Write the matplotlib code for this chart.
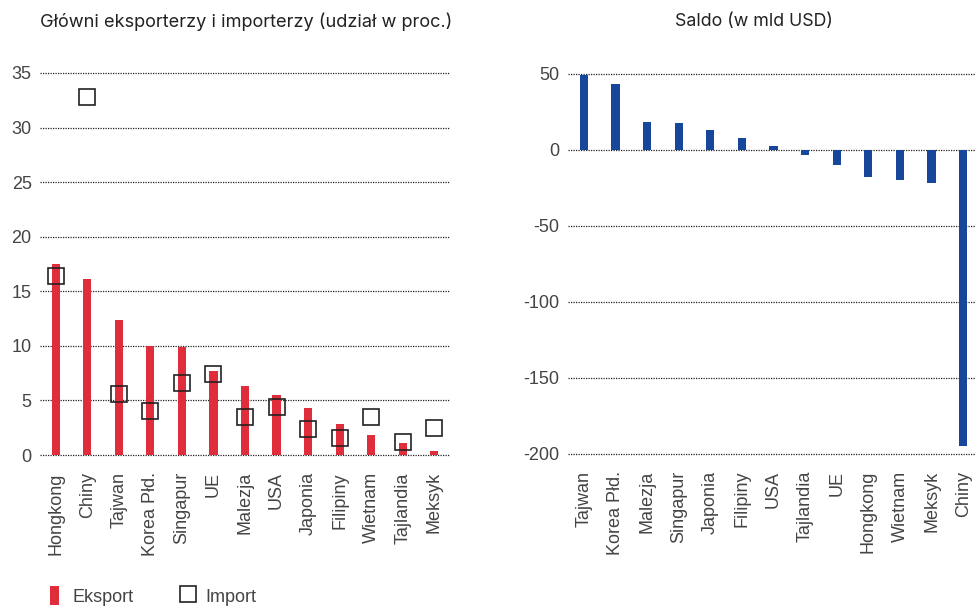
import numpy as np
import matplotlib
matplotlib.use("Agg")
import matplotlib.pyplot as plt

# lewy panel: udzial w eksporcie / imporcie (proc.)
kraje_l = ["Hongkong", "Chiny", "Tajwan", "Korea Płd.", "Singapur", "UE", "Malezja",
           "USA", "Japonia", "Filipiny", "Wietnam", "Tajlandia", "Meksyk"]
eksport = [17.5, 16.1, 12.4, 10.0, 9.9, 7.7, 6.3, 5.5, 4.3, 2.8, 1.8, 1.1, 0.35]
import_ = [16.4, 32.8, 5.55, 4.0, 6.6, 7.4, 3.5, 4.4, 2.35, 1.55, 3.5, 1.15, 2.45]

# prawy panel: saldo (mld USD)
kraje_r = ["Tajwan", "Korea Płd.", "Malezja", "Singapur", "Japonia", "Filipiny", "USA",
           "Tajlandia", "UE", "Hongkong", "Wietnam", "Meksyk", "Chiny"]
saldo = [48.9, 43.4, 18.4, 17.8, 12.7, 7.9, 2.2, -3.3, -9.9, -18.0, -20.2, -22.2, -195.0]

RED = "#e02d3c"
BLUE = "#17479a"
TXT = "#444444"

plt.rcParams["font.family"] = ["Liberation Sans", "DejaVu Sans"]
plt.rcParams["axes.unicode_minus"] = False

fig = plt.figure(figsize=(9.75, 6.07), dpi=100)
W, H = 975, 607

def px_axes(x0, x1, ytop, ybot):
    return fig.add_axes([x0 / W, 1 - ybot / H, (x1 - x0) / W, (ybot - ytop) / H])

def style(ax):
    for s in ax.spines.values():
        s.set_visible(False)
    ax.grid(axis="y", linestyle=(0, (1, 1)), linewidth=0.9, color="#222222")
    ax.set_axisbelow(True)
    ax.tick_params(axis="both", length=0, labelsize=13, labelcolor=TXT)
    ax.tick_params(axis="x", pad=10)
    ax.tick_params(axis="y", pad=6)

# --- lewy (0 -> 455 px, 35 -> 73 px; os lekko wieksza, zeby linie nie byly uciete)
k1 = (455 - 73) / 35
ax1 = px_axes(40, 450, 73 - k1 * 0.3, 455 + k1 * 0.3)
x = np.arange(len(kraje_l))
bars = ax1.bar(x, eksport, width=0.26, color=RED, zorder=2, label="Eksport")
imp, = ax1.plot(x, import_, ls="none", marker="s", ms=11.5, mfc="none", mec="#222222",
                mew=1.2, zorder=3, clip_on=False, label="Import")
ax1.set_xlim(-0.5, len(kraje_l) - 0.5)
ax1.set_ylim(-0.3, 35.3)
ax1.set_yticks(range(0, 36, 5))
ax1.set_xticks(x)
ax1.set_xticklabels(kraje_l, rotation=90)
style(ax1)

# --- prawy (50 -> 73.5 px, -200 -> 454 px)
k2 = (454 - 73.5) / 250
ax2 = px_axes(568, 979, 73.5 - k2 * 2, 454 + k2 * 2)
x2 = np.arange(len(kraje_r))
ax2.bar(x2, saldo, width=0.26, color=BLUE, zorder=2)
ax2.set_xlim(-0.5, len(kraje_r) - 0.5)
ax2.set_ylim(-202, 52)
ax2.set_yticks(range(-200, 51, 50))
ax2.set_xticks(x2)
ax2.set_xticklabels(kraje_r, rotation=90)
style(ax2)

fig.text(40 / W, 1 - 22 / H, "Główni eksporterzy i importerzy (udział w proc.)",
         fontsize=13.1, family=["Inter", "DejaVu Sans"], color="#222222",
         ha="left", va="center")
fig.text(754 / W, 1 - 22 / H, "Saldo (w mld USD)",
         fontsize=12.8, family=["Inter", "DejaVu Sans"], color="#222222",
         ha="center", va="center")

leg = fig.legend(handles=[bars, imp], labels=["Eksport", "Import"], ncol=2,
                 loc="lower left", bbox_to_anchor=(50 / W, 0.002), frameon=False,
                 fontsize=13, handlelength=0.5, handleheight=1.2, handletextpad=0.72,
                 columnspacing=2.8, borderpad=0, borderaxespad=0)
for t in leg.get_texts():
    t.set_color(TXT)

fig.savefig("out.png", dpi=100)
